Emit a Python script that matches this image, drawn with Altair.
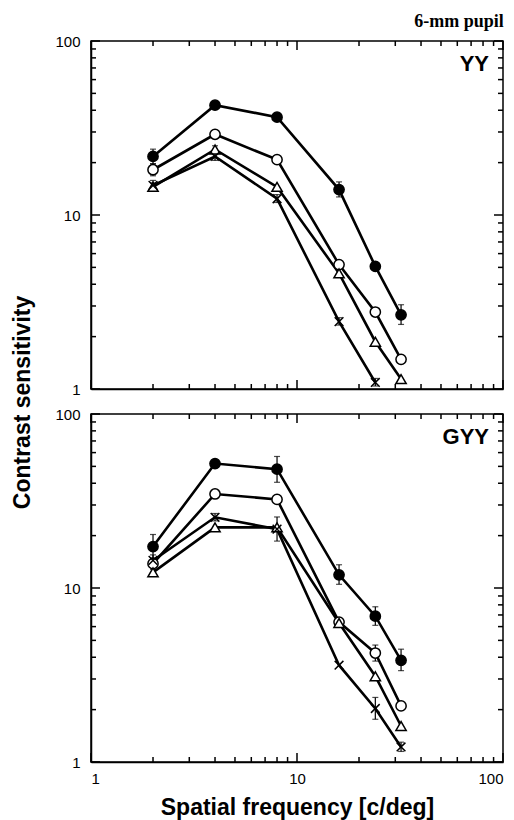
import altair as alt
import pandas as pd

FREQ = [2, 4, 8, 16, 24, 32]
SERIES = ["filled", "open", "triangle", "cross"]
PANELS = ["YY", "GYY"]

# ---- YY panel ----
YY_FILLED = [21.7, 42.8, 36.5, 14.0, 5.07, 2.67]
YY_FILLED_LO = [19.7, 42.8, 36.5, 12.7, 5.07, 2.35]
YY_FILLED_HI = [23.9, 42.8, 36.5, 15.5, 5.07, 3.05]
YY_OPEN = [18.2, 29.1, 20.8, 5.19, 2.77, 1.48]
YY_OPEN_LO = [16.8, 27.8, 20.8, 5.19, 2.77, 1.48]
YY_OPEN_HI = [19.7, 30.5, 20.8, 5.19, 2.77, 1.48]
YY_TRI = [14.5, 23.8, 14.5, 4.62, 1.87, 1.14]
YY_TRI_LO = [13.8, 22.6, 14.5, 4.62, 1.87, 1.14]
YY_TRI_HI = [15.3, 25.0, 14.5, 4.62, 1.87, 1.14]
YY_CROSS = [14.8, 21.7, 12.4, 2.44, 1.09, None]
YY_CROSS_LO = [13.9, 20.6, 11.8, 2.33, 1.04, None]
YY_CROSS_HI = [15.8, 22.9, 13.1, 2.57, 1.15, None]

# ---- GYY panel ----
GYY_FILLED = [17.3, 51.9, 48.2, 11.9, 6.89, 3.84]
GYY_FILLED_LO = [14.8, 51.9, 40.5, 10.5, 6.1, 3.35]
GYY_FILLED_HI = [20.3, 51.9, 57.0, 13.6, 7.8, 4.45]
GYY_OPEN = [13.8, 34.7, 32.3, 6.37, 4.23, 2.10]
GYY_OPEN_LO = [12.8, 33.3, 32.3, 6.37, 3.8, 2.10]
GYY_OPEN_HI = [14.9, 36.2, 32.3, 6.37, 4.7, 2.10]
GYY_TRI = [12.3, 22.3, 22.3, 6.29, 3.11, 1.61]
GYY_TRI_LO = [12.3, 22.3, 22.3, 6.29, 3.11, 1.61]
GYY_TRI_HI = [12.3, 22.3, 22.3, 6.29, 3.11, 1.61]
GYY_CROSS = [14.4, 25.5, 21.8, 3.60, 2.03, 1.22]
GYY_CROSS_LO = [13.4, 24.3, 18.6, 3.60, 1.76, 1.15]
GYY_CROSS_HI = [15.5, 26.8, 25.6, 3.60, 2.35, 1.30]

AXIS_MIN = 1
AXIS_MAX = 100
MAJOR_TICKS = [1, 10, 100]
MINOR_TICKS = [2, 3, 4, 5, 6, 7, 8, 9, 20, 30, 40, 50, 60, 70, 80, 90]

PANEL_DATA = {
    "YY": [(YY_FILLED, YY_FILLED_LO, YY_FILLED_HI), (YY_OPEN, YY_OPEN_LO, YY_OPEN_HI),
           (YY_TRI, YY_TRI_LO, YY_TRI_HI), (YY_CROSS, YY_CROSS_LO, YY_CROSS_HI)],
    "GYY": [(GYY_FILLED, GYY_FILLED_LO, GYY_FILLED_HI), (GYY_OPEN, GYY_OPEN_LO, GYY_OPEN_HI),
            (GYY_TRI, GYY_TRI_LO, GYY_TRI_HI), (GYY_CROSS, GYY_CROSS_LO, GYY_CROSS_HI)],
}

W = 412
H = 348
FONT = "Liberation Sans"
MAJ = 9
MIN = 5


def build_df(panel):
    rows = []
    for s, (vals, los, his) in zip(SERIES, PANEL_DATA[panel]):
        for f, v, lo, hi in zip(FREQ, vals, los, his):
            if v is None:
                continue
            rows.append({"series": s, "f": f, "cs": v, "lo": lo, "hi": hi})
    return pd.DataFrame(rows)


def make_panel(panel, bottom):
    df = build_df(panel)
    xs = alt.Scale(type="log", domain=[AXIS_MIN, AXIS_MAX], nice=False)
    ys = alt.Scale(type="log", domain=[AXIS_MIN, AXIS_MAX], nice=False)

    xlab = alt.Axis(orient="bottom", values=MAJOR_TICKS, format="d", ticks=False,
                    domain=True, domainColor="black", domainWidth=1.5,
                    grid=False, labels=bottom, labelFont=FONT, labelFontSize=15, labelColor="black",
                    labelPadding=9,
                    title="Spatial frequency [c/deg]" if bottom else "",
                    titleFont=FONT, titleFontSize=23, titleFontWeight="bold", titleColor="black",
                    titlePadding=10)
    ylab_kwargs = dict(orient="left", values=MAJOR_TICKS, format="d", ticks=False,
                       domain=True, domainColor="black", domainWidth=1.5,
                       grid=False, labelFont=FONT, labelFontSize=15, labelColor="black",
                       labelPadding=11)
    if bottom:
        ylab = alt.Axis(title="Contrast sensitivity", titleFont=FONT, titleFontSize=23,
                        titleFontWeight="bold", titleColor="black", titleX=-69, titleY=-12,
                        titleAngle=270, titleAlign="center", titleBaseline="middle", **ylab_kwargs)
    else:
        ylab = alt.Axis(title="", **ylab_kwargs)

    X = lambda fld: alt.X(fld, scale=xs, axis=xlab)
    Y = lambda fld: alt.Y(fld, scale=ys, axis=ylab)

    # inward tick marks on all four edges, drawn as tick marks through the scales
    ticks = []
    for vals, L in ((MAJOR_TICKS, MAJ), (MINOR_TICKS, MIN)):
        tdf = pd.DataFrame({"t": vals, "lo_edge": AXIS_MIN, "hi_edge": AXIS_MAX})
        tc = alt.Chart(tdf)
        ticks.append(tc.mark_tick(color="black", orient="vertical", size=L, thickness=1.5,
                                  opacity=1, yOffset=-L / 2).encode(x=X("t:Q"), y=Y("lo_edge:Q")))
        ticks.append(tc.mark_tick(color="black", orient="vertical", size=L, thickness=1.5,
                                  opacity=1, yOffset=L / 2).encode(x=X("t:Q"), y=Y("hi_edge:Q")))
        ticks.append(tc.mark_tick(color="black", orient="horizontal", size=L, thickness=1.5,
                                  opacity=1, xOffset=L / 2).encode(y=Y("t:Q"), x=X("lo_edge:Q")))
        ticks.append(tc.mark_tick(color="black", orient="horizontal", size=L, thickness=1.5,
                                  opacity=1, xOffset=-L / 2).encode(y=Y("t:Q"), x=X("hi_edge:Q")))

    base = alt.Chart(df)
    lines = base.mark_line(color="black", strokeWidth=2.6).encode(
        x=X("f:Q"), y=Y("cs:Q"), detail="series:N", order="f:Q")
    err = base.transform_filter("datum.hi > datum.lo")
    bars = err.mark_rule(color="black", strokeWidth=1.2).encode(
        x=X("f:Q"), y=Y("lo:Q"), y2="hi:Q")
    caps_lo = err.mark_tick(color="black", orient="horizontal", size=6, thickness=1.2).encode(
        x=X("f:Q"), y=Y("lo:Q"))
    caps_hi = err.mark_tick(color="black", orient="horizontal", size=6, thickness=1.2).encode(
        x=X("f:Q"), y=Y("hi:Q"))
    points = base.mark_point(stroke="black", strokeWidth=1.5, size=105, opacity=1,
                             fillOpacity=1).encode(
        x=X("f:Q"), y=Y("cs:Q"),
        shape=alt.Shape("series:N", scale=alt.Scale(
            domain=SERIES,
            range=["circle", "circle", "triangle-up",
                   "M-0.85,-0.85L0.85,0.85M-0.85,0.85L0.85,-0.85"]), legend=None),
        fill=alt.Fill("series:N", scale=alt.Scale(
            domain=SERIES, range=["black", "white", "white", "transparent"]), legend=None),
    )
    label = alt.Chart(alt.Data(values=[{"name": panel}])).mark_text(
        font=FONT, fontSize=22, fontWeight="bold", color="black", align="right",
        baseline="middle").encode(
        text="name:N", x=alt.value(W - 14), y=alt.value(23))

    layer = alt.layer(lines, *ticks, bars, caps_lo, caps_hi, points, label
                      ).properties(width=W, height=H)
    if not bottom:
        layer = layer.properties(title=alt.TitleParams(
            "6-mm pupil", anchor="end", font="Liberation Serif", fontSize=18,
            fontWeight="bold", color="black", offset=3))
    return layer


chart = alt.vconcat(make_panel("YY", False), make_panel("GYY", True),
                    spacing=25, bounds="flush").properties(
    padding={"left": 10, "top": 12, "right": 0, "bottom": 0},
    background="white",
).configure_view(stroke="black", strokeWidth=1.5)

chart.save("out.html", embed_options={"renderer": "svg", "actions": False})
